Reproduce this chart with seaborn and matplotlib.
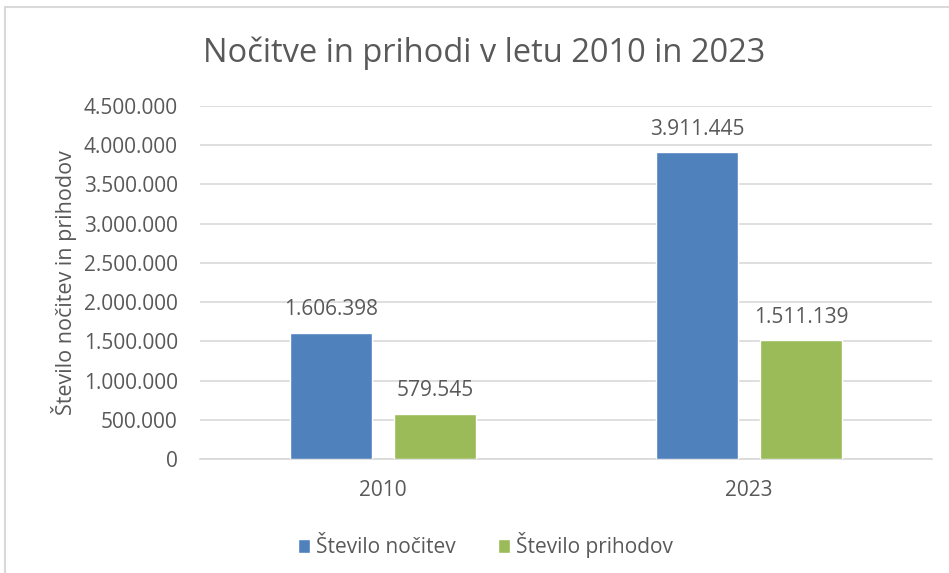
import numpy as np
import pandas as pd
import seaborn as sns
import matplotlib.pyplot as plt
from matplotlib.patches import Rectangle

sns.set_theme(style="white")
plt.rcParams["font.family"] = ["Open Sans", "DejaVu Sans"]

years = ["2010", "2023"]
series = ["Število nočitev", "Število prihodov"]
nocitve = [1606398, 3911445]
prihodi = [579545, 1511139]

colors = ["#4F81BD", "#9BBB59"]
grey = "#595959"

df = pd.DataFrame({
    "leto": years * 2,
    "serija": [series[0]] * 2 + [series[1]] * 2,
    "vrednost": nocitve + prihodi,
})

fig = plt.figure(figsize=(9.49, 5.73), dpi=100)
ax = fig.add_axes([0.2107, 0.199, 0.7714, 0.616])

sns.barplot(data=df, x="leto", y="vrednost", hue="serija", palette=colors,
            saturation=1, width=0.57, gap=0.21, ax=ax, zorder=3)

def fmt(v):
    return f"{int(v):,}".replace(",", ".")

for cont in ax.containers:
    ax.bar_label(cont, labels=[fmt(b.get_height()) for b in cont],
                 padding=9, fontsize=15, color=grey)

ax.set_ylim(0, 4500000)
ax.set_yticks(np.arange(0, 4500001, 500000))
ax.set_yticklabels([fmt(v) for v in np.arange(0, 4500001, 500000)])
ax.yaxis.grid(True, color="#D9D9D9", linewidth=1.2, zorder=0)
ax.tick_params(axis="both", length=0, labelsize=15, colors=grey)
ax.tick_params(axis="y", pad=16)
ax.tick_params(axis="x", pad=15)
for s in ["top", "right", "left"]:
    ax.spines[s].set_visible(False)
ax.spines["bottom"].set_color("#D9D9D9")
ax.set_xlabel("")
ax.set_ylabel("Število nočitev in prihodov", fontsize=15.5, color=grey, labelpad=5)

ax.legend(loc="center", bbox_to_anchor=(0.39, -0.245), ncol=2, frameon=False,
          fontsize=15, labelcolor=grey, handlelength=0.6, handleheight=0.6,
          handletextpad=0.3, columnspacing=2.0)

fig.text(0.51, 0.907, "Nočitve in prihodi v letu 2010 in 2023",
         ha="center", va="center", fontsize=23.5, color=grey)

# chart frame
fig.patches.append(Rectangle((5 / 949, -0.1), 1.1, 1.1 - 7 / 573,
                             transform=fig.transFigure, fill=False,
                             edgecolor="#D9D9D9", linewidth=1.5))

fig.savefig("out.png", dpi=100)
